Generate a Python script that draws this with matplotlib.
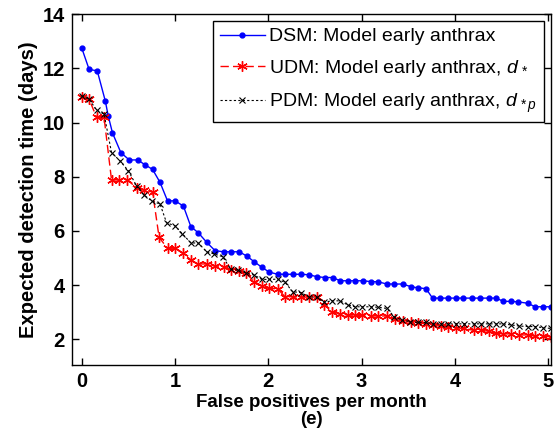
import matplotlib
matplotlib.use("Agg")
import matplotlib.pyplot as plt

# DSM: model early anthrax
dsm_x = [0.0, 0.08, 0.167, 0.253, 0.285, 0.33, 0.42, 0.51, 0.6, 0.68, 0.76, 0.84,
         0.92, 1.0, 1.09, 1.17, 1.25, 1.34, 1.43, 1.52, 1.6, 1.69, 1.77, 1.85, 1.93,
         2.01, 2.1, 2.18, 2.26, 2.35, 2.44, 2.52, 2.61, 2.69, 2.77, 2.85, 2.93, 3.01,
         3.1, 3.18, 3.27, 3.35, 3.44, 3.53, 3.6, 3.69, 3.76, 3.84, 3.93, 4.01, 4.09,
         4.18, 4.27, 4.36, 4.44, 4.52, 4.6, 4.68, 4.78, 4.86, 4.94, 5.03]
dsm_y = [12.76, 11.96, 11.91, 10.8, 10.24, 9.62, 8.89, 8.62, 8.62, 8.44, 8.27, 7.79,
         7.11, 7.11, 6.92, 6.16, 5.93, 5.58, 5.27, 5.23, 5.23, 5.23, 5.07, 4.86, 4.66,
         4.48, 4.4, 4.4, 4.4, 4.4, 4.38, 4.31, 4.28, 4.28, 4.16, 4.16, 4.16, 4.16,
         4.13, 4.12, 4.04, 4.04, 4.04, 3.94, 3.9, 3.87, 3.52, 3.52, 3.52, 3.52, 3.52,
         3.52, 3.52, 3.52, 3.52, 3.4, 3.4, 3.38, 3.33, 3.2, 3.2, 3.2]

# UDM: model early anthrax, d*
udm_x = [0.0, 0.08, 0.16, 0.24, 0.32, 0.4, 0.49, 0.59, 0.67, 0.76, 0.83, 0.92, 1.0,
         1.09, 1.17, 1.25, 1.34, 1.43, 1.52, 1.6, 1.69, 1.76, 1.85, 1.93, 2.01, 2.1,
         2.18, 2.26, 2.35, 2.44, 2.52, 2.6, 2.68, 2.77, 2.85, 2.93, 3.0, 3.1, 3.18,
         3.27, 3.36, 3.44, 3.53, 3.6, 3.69, 3.77, 3.85, 3.93, 4.01, 4.1, 4.2, 4.28,
         4.36, 4.44, 4.52, 4.6, 4.69, 4.78, 4.86, 4.94, 5.03]
udm_y = [10.93, 10.86, 10.19, 10.19, 7.88, 7.88, 7.88, 7.59, 7.52, 7.43, 5.76, 5.36,
         5.36, 5.17, 4.93, 4.78, 4.78, 4.71, 4.68, 4.56, 4.53, 4.44, 4.13, 3.97, 3.88,
         3.86, 3.57, 3.57, 3.55, 3.56, 3.56, 3.27, 3.02, 2.93, 2.9, 2.88, 2.88, 2.86,
         2.86, 2.86, 2.74, 2.66, 2.63, 2.6, 2.58, 2.52, 2.48, 2.45, 2.42, 2.4, 2.33,
         2.33, 2.3, 2.22, 2.2, 2.2, 2.16, 2.16, 2.12, 2.12, 2.09]

# PDM: model early anthrax, d*p
pdm_x = [0.0, 0.08, 0.16, 0.24, 0.32, 0.41, 0.5, 0.59, 0.67, 0.75, 0.84, 0.91, 1.0,
         1.08, 1.17, 1.25, 1.34, 1.42, 1.51, 1.6, 1.68, 1.76, 1.85, 1.93, 2.01, 2.1,
         2.18, 2.26, 2.35, 2.44, 2.52, 2.6, 2.68, 2.77, 2.85, 2.93, 3.0, 3.1, 3.18,
         3.27, 3.35, 3.43, 3.52, 3.6, 3.69, 3.77, 3.85, 3.93, 4.01, 4.1, 4.2, 4.28,
         4.36, 4.44, 4.52, 4.6, 4.69, 4.78, 4.86, 4.94, 5.03]
pdm_y = [10.98, 10.86, 10.46, 10.31, 8.89, 8.59, 8.22, 7.65, 7.32, 7.11, 6.99, 6.3,
         6.19, 5.89, 5.56, 5.55, 5.23, 5.15, 5.05, 4.58, 4.55, 4.45, 4.37, 4.21, 4.21,
         4.22, 4.1, 3.76, 3.72, 3.56, 3.55, 3.37, 3.42, 3.42, 3.27, 3.2, 3.2, 3.2,
         3.18, 3.14, 2.83, 2.71, 2.65, 2.62, 2.62, 2.57, 2.57, 2.57, 2.57, 2.57, 2.57,
         2.57, 2.57, 2.57, 2.57, 2.53, 2.49, 2.47, 2.47, 2.43, 2.4]

x_ticks = [0, 1, 2, 3, 4, 5]
y_ticks = [2, 4, 6, 8, 10, 12, 14]

plt.rcParams["font.family"] = ["Liberation Sans", "DejaVu Sans"]
plt.rcParams["mathtext.fontset"] = "custom"
plt.rcParams["mathtext.rm"] = "Liberation Sans"
plt.rcParams["mathtext.it"] = "Liberation Sans:italic"

fig = plt.figure(figsize=(5.6, 4.43), dpi=100)
ax = fig.add_axes([0.128, 0.176, 0.856, 0.792])

asterisk = (6, 2, 0)
ax.plot(dsm_x, dsm_y, color="blue", linestyle="-", linewidth=1.0,
        marker="o", markersize=3.5, label="DSM: Model early anthrax")
ax.plot(udm_x, udm_y, color="red", linestyle=(0, (6, 3)), linewidth=1.0,
        marker=asterisk, markersize=7.5, markeredgewidth=1.0,
        label="UDM: Model early anthrax, $d_{\\,*}$")
ax.plot(pdm_x, pdm_y, color="black", linestyle=(0, (2, 2)), linewidth=0.8,
        marker="x", markersize=4.5, markeredgewidth=0.8,
        label="PDM: Model early anthrax, $d_{\\,*p}$")

ax.set_xlim(-0.107, 5.03)
ax.set_ylim(1.05, 14)
ax.set_xticks(x_ticks)
ax.set_yticks(y_ticks)
ax.tick_params(direction="in", length=5, width=1, top=True, right=True,
               labelsize=14.5, pad=5)
for lbl in ax.get_xticklabels() + ax.get_yticklabels():
    lbl.set_fontweight("bold")
for s in ax.spines.values():
    s.set_linewidth(1.0)

ax.set_xlabel("False positives per month\n(e)", fontsize=13.5, fontweight="bold",
              linespacing=1.0, labelpad=2)
ax.set_ylabel("Expected detection time (days)", fontsize=14.5, fontweight="bold",
              labelpad=3)

leg = ax.legend(loc="upper right", fontsize=14, frameon=True, fancybox=False,
                edgecolor="black", framealpha=1, borderaxespad=0.35,
                handlelength=2.3, handletextpad=0.25, labelspacing=0.65,
                borderpad=0.35)
leg.get_frame().set_linewidth(1.0)

fig.savefig("out.png", dpi=100)
